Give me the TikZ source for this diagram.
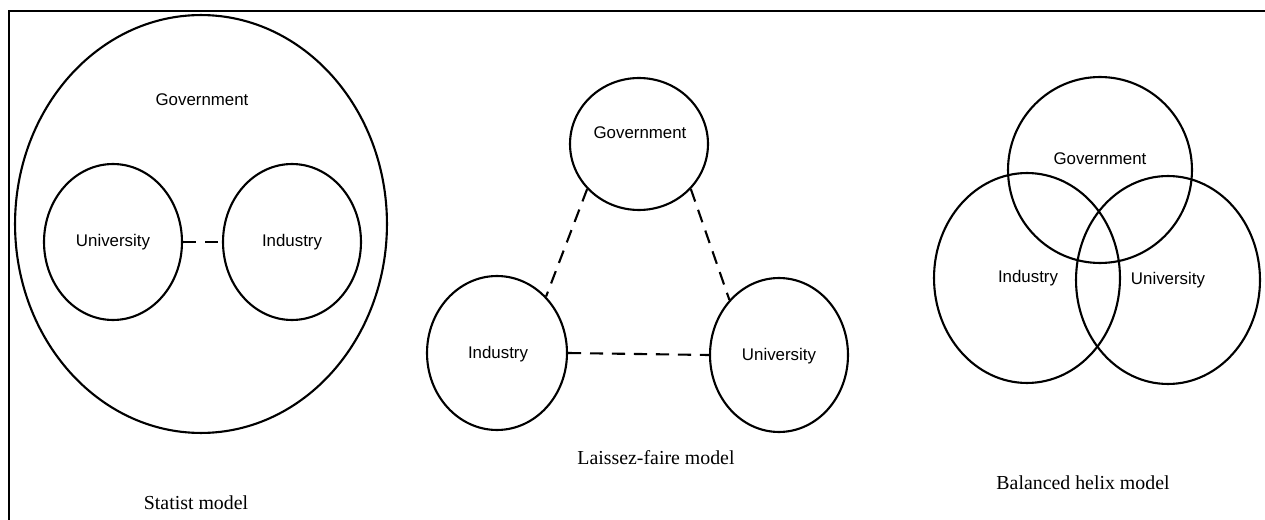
\documentclass[tikz,border=0pt]{standalone}
\usepackage{fontspec}
\setmainfont{Liberation Serif}
\newfontfamily\labelfont{Liberation Sans}
\usetikzlibrary{shapes.geometric}

\begin{document}
\begin{tikzpicture}[x=0.02cm,y=-0.02cm,
        blob/.style={draw, ellipse, line width=1.2pt, inner sep=0pt},
        tie/.style={line width=1.2pt, dash pattern=on 7.5pt off 5pt},
        lbl/.style={font=\labelfont\fontsize{9.6}{11}\selectfont},
        caption/.style={font=\fontsize{11.3}{13}\selectfont}]

                \useasboundingbox (0,0) rectangle (1265,520);
                \draw[line width=1.2pt] (9,520) -- (9,11) -- (1265,11);

                % statist model
                \node[blob, minimum width=7.44cm, minimum height=8.36cm] (stgov) at (201,224) {};
                \node[blob, minimum width=2.76cm, minimum height=3.12cm] (stuni) at (113,242) {};
                \node[blob, minimum width=2.76cm, minimum height=3.12cm] (stind) at (292,242) {};
                \node[lbl] (stgovtxt) at (202,100) {Government};
                \node[lbl] (stunitxt) at (113,242) {University};
                \node[lbl] (stindtxt) at (292,242) {Industry};
                \draw[tie] (stuni.east) -- (stind.west);
                \node[caption] (stcap) at (196,503) {Statist model};

                % laissez-faire model
                \node[blob, minimum width=2.76cm, minimum height=2.64cm] (lfgov) at (639,144) {};
                \node[blob, minimum width=2.80cm, minimum height=3.08cm] (lfind) at (497,353) {};
                \node[blob, minimum width=2.76cm, minimum height=3.08cm] (lfuni) at (779,355) {};
                \node[lbl] (lfgovtxt) at (640,133) {Government};
                \node[lbl] (lfindtxt) at (498,354) {Industry};
                \node[lbl] (lfunitxt) at (779,356) {University};
                \draw[tie] (lfgov.221) -- (lfind.49);
                \draw[tie] (lfgov.319) -- (lfuni.132);
                \draw[tie] (lfind.east) -- (lfuni.west);
                \node[caption] (lfcap) at (656,458) {Laissez-faire model};

                % balanced helix model
                \node[blob, minimum width=3.68cm, minimum height=3.72cm] (bhgov) at (1100,170) {};
                \node[blob, minimum width=3.72cm, minimum height=4.20cm] (bhind) at (1027,278) {};
                \node[blob, minimum width=3.68cm, minimum height=4.16cm] (bhuni) at (1168,280) {};
                \node[lbl] (bhgovtxt) at (1100,159) {Government};
                \node[lbl] (bhindtxt) at (1028,278) {Industry};
                \node[lbl] (bhunitxt) at (1168,280) {University};
                \node[caption] (bhcap) at (1083,483) {Balanced helix model};
            \end{tikzpicture}
\end{document}
